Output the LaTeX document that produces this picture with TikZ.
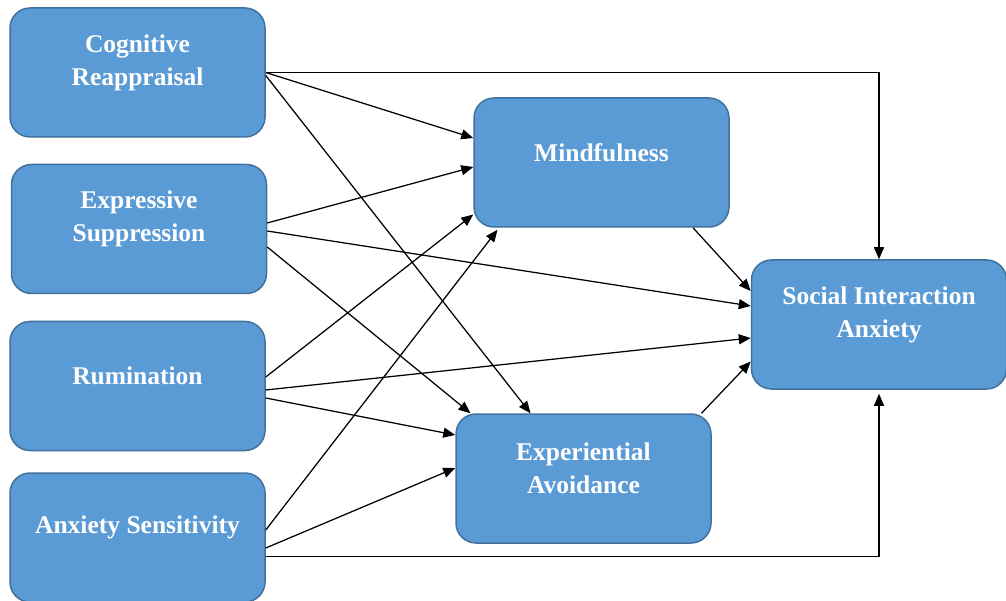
\documentclass[tikz,border=0pt]{standalone}
\usepackage{fontspec}
\setmainfont{Liberation Serif}
\usetikzlibrary{arrows.meta}
\definecolor{boxfill}{HTML}{5B9BD5}
\definecolor{boxline}{HTML}{41719C}
\tikzset{
  box/.style={draw=boxline, fill=boxfill, line width=1.5pt, rounded corners=20pt,
    minimum width=255pt, minimum height=129pt, inner sep=0pt},
  lbl/.style={text=white, font=\fontsize{25.5}{33}\selectfont\bfseries, align=center, inner sep=0pt},
  conn/.style={draw=black, line width=1.25pt, -{Triangle[length=12pt,width=10pt]}},
}
\begin{document}
\begin{tikzpicture}[x=1pt,y=-1pt]
\useasboundingbox (0,0) rectangle (1006,601);
\node[box] (cr) at (137.5,72.5) {};
\node[box] (es) at (139,229) {};
\node[box] (rum) at (137.5,386) {};
\node[box] (as) at (137.5,537.5) {};
\node[box] (mind) at (601.5,162.5) {};
\node[box] (ea) at (583.5,478.5) {};
\node[box] (sia) at (879,324.5) {};
\node[lbl] (crl) at ([yshift=10pt]cr.center) {Cognitive\\Reappraisal};
\node[lbl] (esl) at ([yshift=10pt]es.center) {Expressive\\Suppression};
\node[lbl] (ruml) at ([yshift=10pt]rum.center) {Rumination};
\node[lbl] (asl) at ([yshift=10pt]as.center) {Anxiety Sensitivity};
\node[lbl] (mindl) at ([yshift=10pt]mind.center) {Mindfulness};
\node[lbl] (eal) at ([yshift=10pt]ea.center) {Experiential\\Avoidance};
\node[lbl] (sial) at ([yshift=10pt]sia.center) {Social Interaction\\Anxiety};
% Cognitive Reappraisal
\draw[conn] (cr.east) -| (sia.north);
\draw[conn] (cr.east) -- ([yshift=24.5pt]mind.west);
\draw[conn] ([yshift=-3pt]cr.east) -- ([xshift=-53pt]ea.north);
% Expressive Suppression
\draw[conn] ([yshift=6pt]es.east) -- ([yshift=-4.5pt]mind.west);
\draw[conn] ([yshift=-2pt]es.east) -- ([yshift=18.5pt]sia.west);
\draw[conn] ([yshift=-18pt]es.east) -- ([xshift=-113pt]ea.north);
% Rumination
\draw[conn] ([yshift=9pt]rum.east) -- ([yshift=-52pt]mind.west);
\draw[conn] ([yshift=-4pt]rum.east) -- ([yshift=-13.5pt]sia.west);
\draw[conn] ([yshift=-12pt]rum.east) -- ([yshift=43.5pt]ea.west);
% Anxiety Sensitivity
\draw[conn] ([yshift=7.5pt]as.east) -- ([xshift=-104pt,yshift=-2pt]mind.south);
\draw[conn] ([yshift=-10.5pt]as.east) -- ([yshift=10.5pt]ea.west);
\draw[conn, shorten >=4pt] ([yshift=-19pt]as.east) -| (sia.south);
% Mediators
\draw[conn] ([xshift=91.5pt]mind.south) -- ([yshift=33.5pt]sia.west);
\draw[conn] ([xshift=118pt]ea.north) -- ([yshift=-37pt]sia.west);
\end{tikzpicture}
\end{document}
